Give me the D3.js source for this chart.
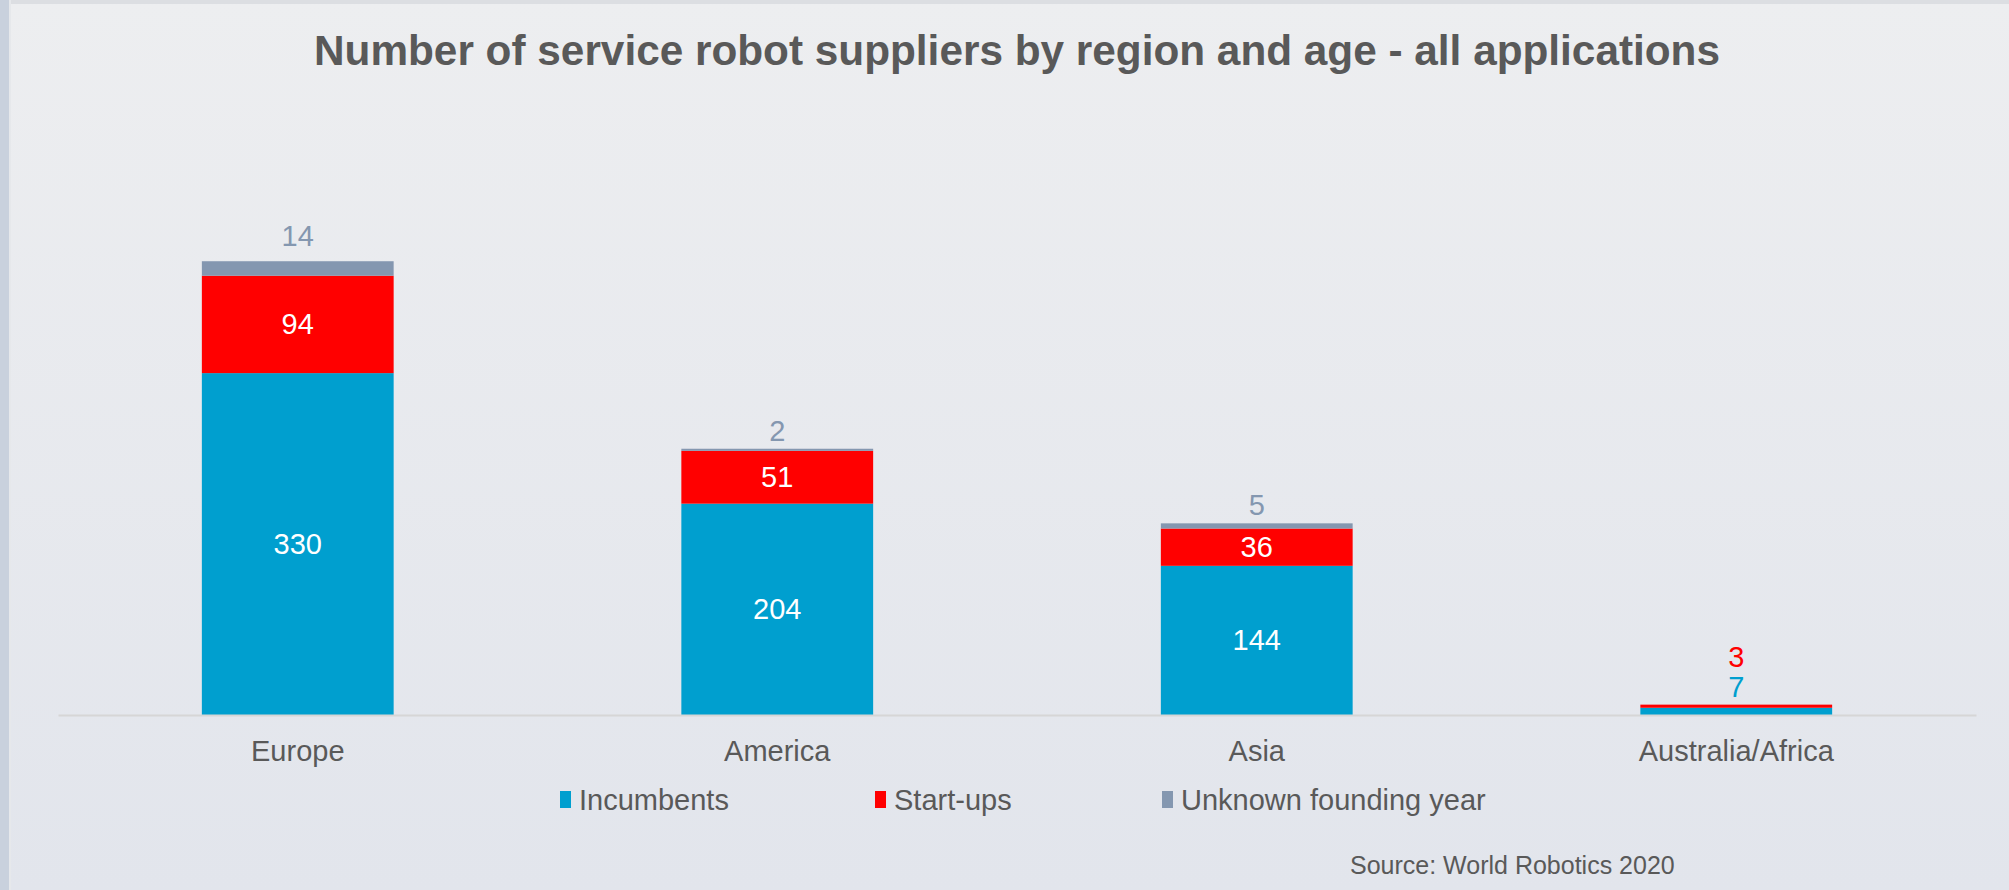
<!DOCTYPE html>
<html>
<head>
<meta charset="utf-8">
<script src="https://cdn.jsdelivr.net/npm/d3@7"></script>
<style>
  html, body { margin: 0; padding: 0; background: #e4e7ed; }
  svg { display: block; font-family: "Liberation Sans", Arial, sans-serif; }
</style>
</head>
<body>
<div id="chart"></div>
<script>
// Data
const regions = ["Europe", "America", "Asia", "Australia/Africa"];
const seriesNames = ["Incumbents", "Start-ups", "Unknown founding year"];
const incumbents = [330, 204, 144, 7];
const startups = [94, 51, 36, 3];
const unknown = [14, 2, 5, 0];
const seriesColors = ["#009fcf", "#ff0000", "#8497b0"];

const W = 2009, H = 890;

const rows = regions.map((r, i) => ({
    region: r,
    "Incumbents": incumbents[i],
    "Start-ups": startups[i],
    "Unknown founding year": unknown[i]
}));

const svg = d3.select("#chart").append("svg")
    .attr("width", W)
    .attr("height", H);

// background + frame
const defs = svg.append("defs");
const grad = defs.append("linearGradient")
    .attr("id", "bg").attr("x1", 0).attr("y1", 0).attr("x2", 0).attr("y2", 1);
grad.append("stop").attr("offset", "0%").attr("stop-color", "#edeef0");
grad.append("stop").attr("offset", "100%").attr("stop-color", "#e2e5ec");

svg.append("rect").attr("width", W).attr("height", H).attr("fill", "url(#bg)");
svg.append("rect").attr("width", W).attr("height", 4).attr("fill", "#dcdee2");
svg.append("rect").attr("width", 9).attr("height", H).attr("fill", "#c9d1dd");
svg.append("rect").attr("x", 9).attr("width", 2).attr("height", H).attr("fill", "#e6e8eb");

// Title
svg.append("text")
    .attr("x", 1017)
    .attr("y", 65)
    .attr("text-anchor", "middle")
    .attr("font-size", 42)
    .attr("font-weight", "bold")
    .attr("fill", "#595959")
    .attr("textLength", 1406)
    .attr("lengthAdjust", "spacingAndGlyphs")
    .text("Number of service robot suppliers by region and age - all applications");

// Scales
const x = d3.scaleBand()
    .domain(regions)
    .range([58, 1976])
    .paddingInner(0.6)
    .paddingOuter(0.3);

const y = d3.scaleLinear()
    .domain([0, 500])
    .range([715, 197]);

const color = d3.scaleOrdinal().domain(seriesNames).range(seriesColors);

const stacked = d3.stack().keys(seriesNames)(rows);

// Bars
const layers = svg.selectAll(".layer")
    .data(stacked)
    .enter().append("g")
    .attr("class", "layer")
    .attr("fill", d => color(d.key));

layers.selectAll("rect")
    .data(d => d)
    .enter().append("rect")
    .attr("x", d => x(d.data.region))
    .attr("y", d => y(d[1]))
    .attr("width", x.bandwidth())
    .attr("height", d => y(d[0]) - y(d[1]));

// Axis line
const xAxis = svg.append("g")
    .attr("transform", `translate(0,${y(0)})`)
    .call(d3.axisBottom(x).tickSize(0).tickPadding(46));
xAxis.select(".domain").attr("stroke", "#d6d6d6").attr("stroke-width", 2);
xAxis.selectAll("text")
    .attr("font-size", 29)
    .attr("fill", "#595959")
    .attr("font-family", "\"Liberation Sans\", Arial, sans-serif")
    .attr("dy", 0);

// Data labels: inside when segment is tall, else stacked above the bar
regions.forEach((r, i) => {
    let above = 0;
    const top = y(incumbents[i] + startups[i] + unknown[i]);
    stacked.forEach(layer => {
        const d = layer[i];
        const v = d[1] - d[0];
        if (v === 0) return;
        const hgt = y(d[0]) - y(d[1]);
        const cx = x(r) + x.bandwidth() / 2;
        if (hgt > 30) {
            svg.append("text")
                .attr("x", cx)
                .attr("y", (y(d[0]) + y(d[1])) / 2 + 10)
                .attr("text-anchor", "middle")
                .attr("font-size", 29)
                .attr("fill", "#ffffff")
                .text(v);
        } else {
            svg.append("text")
                .attr("x", cx)
                .attr("y", top - (hgt > 12 ? 15 : 8) - above * 30)
                .attr("text-anchor", "middle")
                .attr("font-size", 29)
                .attr("fill", color(layer.key))
                .text(v);
            above++;
        }
    });
});

// Legend
const legendX = [560, 875, 1162];
const legend = svg.selectAll(".legend")
    .data(seriesNames)
    .enter().append("g")
    .attr("class", "legend")
    .attr("transform", (d, i) => `translate(${legendX[i]},800)`);
legend.append("rect")
    .attr("x", 0).attr("y", -9)
    .attr("width", 11).attr("height", 17)
    .attr("fill", d => color(d));
legend.append("text")
    .attr("x", 19)
    .attr("y", 10)
    .attr("font-size", 29)
    .attr("fill", "#595959")
    .text(d => d);

// Source
svg.append("text")
    .attr("x", 1350)
    .attr("y", 874)
    .attr("font-size", 25)
    .attr("fill", "#595959")
    .text("Source: World Robotics 2020");
</script>
</body>
</html>
